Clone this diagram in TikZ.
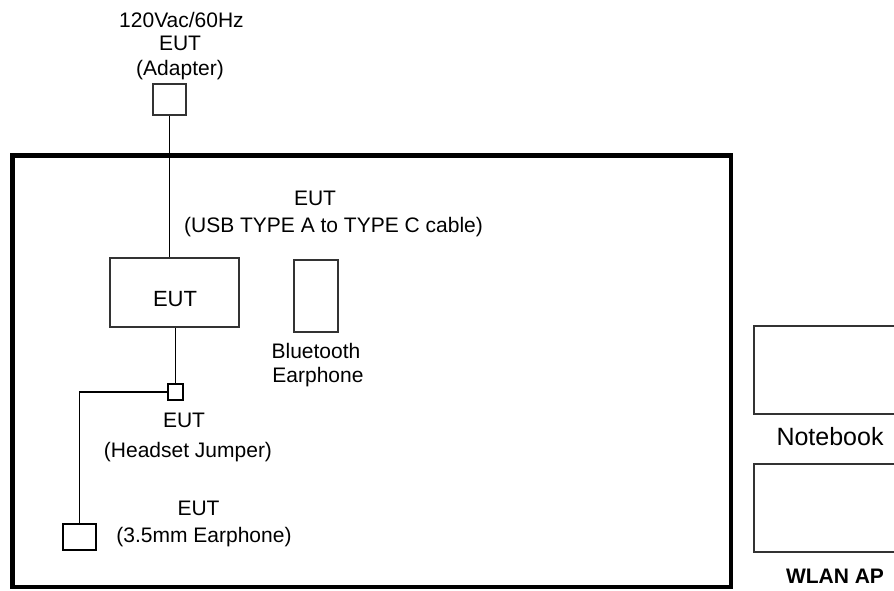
\documentclass[tikz,border=0pt]{standalone}
\usepackage{fontspec}
\setmainfont{Liberation Sans}
\usetikzlibrary{positioning}

\begin{document}
\begin{tikzpicture}[x=1pt,y=-1pt,
    box/.style={draw=black!80,line width=1.8pt,inner sep=0pt},
    wire/.style={line width=1.5pt},
    lbl/.style={anchor=base,inner sep=0pt,font=\fontsize{21}{24}\selectfont}]
  \useasboundingbox (0,0) rectangle (894,590);
  \draw[line width=4.5pt] (12.5,155.5) rectangle (731,587); %test area
  % adapter
  \node[box,minimum width=33.5pt,minimum height=31.5pt] (adapter) at (169.5,99.5) {};
  \node[lbl] (acin) at (181.5,27) {120Vac/60Hz};
  \node[lbl] (adeut) at (180,50) {EUT};
  \node[lbl] (adname) at (180,75) {(Adapter)};
  % EUT and cable
  \node[box,minimum width=129.5pt,minimum height=69.5pt] (eut) at (174.5,292.5) {};
  \node[lbl,font=\fontsize{22}{24}\selectfont] (eutname) at (175,306) {EUT};
  \node[lbl] (usbeut) at (315,205) {EUT};
  \node[lbl] (usbname) at (333.5,232) {(USB TYPE A to TYPE C cable)};
  % bluetooth earphone
  \node[box,minimum width=44.5pt,minimum height=72.5pt] (bt) at (316,296) {};
  \node[lbl] (btname) at (316,358) {Bluetooth};
  \node[lbl] (btname2) at (318,382) {Earphone};
  % headset jumper and 3.5mm earphone
  \node[box,draw=black,minimum width=15.5pt,minimum height=16.5pt] (jumper) at (175.5,392) {};
  \node[lbl] (jpeut) at (184,427) {EUT};
  \node[lbl] (jpname) at (188,457) {(Headset Jumper)};
  \node[box,draw=black,minimum width=33.5pt,minimum height=26.5pt] (earph) at (79.5,537) {};
  \node[lbl] (epeut) at (198.5,515) {EUT};
  \node[lbl] (epname) at (204,542) {(3.5mm Earphone)};
  % support units
  \node[box,minimum width=146pt,minimum height=88.5pt] (nb) at (826.8,370) {};
  \node[lbl,font=\fontsize{25}{28}\selectfont] (nbname) at (830,445) {Notebook};
  \node[box,minimum width=146pt,minimum height=88.5pt] (ap) at (826.8,508) {};
  \node[lbl,font=\bfseries\fontsize{21}{24}\selectfont] (apname) at (835,583) {WLAN AP};
  % cables
  \draw[wire] (adapter.south) -- (adapter.south |- eut.north);
  \draw[wire] (jumper.north |- eut.south) -- (jumper.north);
  \draw[wire] (jumper.west) -| (earph.north);
\end{tikzpicture}
\end{document}
